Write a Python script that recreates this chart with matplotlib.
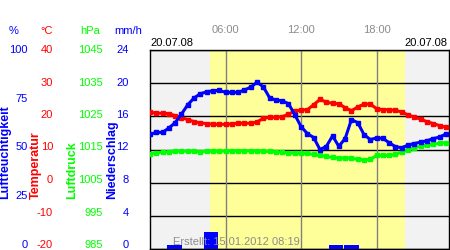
import matplotlib
matplotlib.use('Agg')
import matplotlib.pyplot as plt
from matplotlib.transforms import blended_transform_factory

# time of day in hours, one reading every 30 minutes
hours = [0.0, 0.5, 1.0, 1.5, 2.0, 2.5, 3.0, 3.5, 4.0, 4.5, 5.0, 5.5,
         6.0, 6.5, 7.0, 7.5, 8.0, 8.5, 9.0, 9.5, 10.0, 10.5, 11.0, 11.5,
         12.0, 12.5, 13.0, 13.5, 14.0, 14.5, 15.0, 15.5, 16.0, 16.5, 17.0, 17.5,
         18.0, 18.5, 19.0, 19.5, 20.0, 20.5, 21.0, 21.5, 22.0, 22.5, 23.0, 23.5]

temperature = [21.2, 21.0, 20.9, 20.8, 20.2, 19.6, 19.0, 18.4, 18.0, 17.8, 17.6, 17.6,
               17.6, 17.7, 17.9, 17.9, 17.9, 18.3, 19.4, 19.7, 19.7, 19.9, 20.6, 21.6,
               21.9, 22.0, 23.5, 25.1, 24.3, 23.9, 23.8, 22.6, 21.7, 22.8, 23.7, 23.7,
               22.3, 22.0, 22.0, 21.8, 21.3, 20.4, 19.8, 19.1, 18.4, 17.8, 17.2, 16.7]

humidity = [57.6, 58.6, 58.6, 60.8, 63.5, 67.8, 72.5, 75.9, 78.0, 79.0, 79.5, 79.7,
            78.7, 78.7, 78.7, 79.9, 81.3, 83.8, 81.5, 76.0, 74.8, 74.5, 73.0, 67.5,
            61.5, 58.0, 56.0, 50.0, 51.5, 56.8, 51.6, 55.5, 65.0, 63.5, 57.5, 55.0,
            55.8, 55.6, 53.4, 51.4, 50.9, 52.2, 53.0, 53.7, 54.4, 55.5, 56.2, 57.8]

pressure = [1013.7, 1014.0, 1014.2, 1014.3, 1014.5, 1014.5, 1014.5, 1014.5, 1014.3, 1014.5, 1014.5, 1014.4,
            1014.6, 1014.6, 1014.6, 1014.6, 1014.6, 1014.6, 1014.4, 1014.4, 1014.3, 1014.2, 1014.0, 1013.9,
            1013.9, 1013.8, 1013.5, 1013.2, 1012.9, 1012.6, 1012.4, 1012.4, 1012.4, 1012.0, 1011.9, 1012.0,
            1013.2, 1013.2, 1013.2, 1013.5, 1014.3, 1014.9, 1015.5, 1016.0, 1016.3, 1016.6, 1016.9, 1017.1]

rain_hours = [1.96, 4.86, 14.78, 16.0]
rain = [0.5, 2.0, 0.5, 0.5]

sunrise = 4.77
sunset = 20.27

hum_ticks = [100, 75, 50, 25, 0]
temp_ticks = [40, 30, 20, 10, 0, -10, -20]
pres_ticks = [1045, 1035, 1025, 1015, 1005, 995, 985]
rain_ticks = [24, 20, 16, 12, 8, 4, 0]
time_labels = ['06:00', '12:00', '18:00']
time_pos = [6, 12, 18]
date_txt = '20.07.08'
created = 'Erstellt: 15.01.2012 08:19'

RED = '#ff0000'
BLUE = '#0000ff'
GREEN = '#00ff00'
GRAY = '#8c8c8c'
plt.rcParams['font.family'] = ['Liberation Sans', 'DejaVu Sans']

W, H = 450, 250
fig = plt.figure(figsize=(4.5, 2.5), dpi=100)
ax = fig.add_axes([150 / W, 1 - 249 / H, 299 / W, 199 / H])
ax.set_facecolor('#f2f2f2')
ax.set_xlim(0, 23.75)
ax.set_ylim(-20, 40)
ax.axvspan(sunrise, sunset, color='#ffff99', zorder=0, lw=0)
for t in temp_ticks:
    ax.axhline(t, color='black', lw=1, zorder=1)
for t in time_pos:
    ax.axvline(t, color='#808080', lw=1, zorder=1)
ax.set_xticks([])
ax.set_yticks([])
for s in ax.spines.values():
    s.set_color('black')
    s.set_linewidth(1)

def twin(lo, hi):
    a = ax.twinx()
    a.set_ylim(lo, hi)
    a.set_xlim(0, 23.75)
    a.set_yticks([])
    a.set_xticks([])
    for s in a.spines.values():
        s.set_visible(False)
    return a

ax_r = twin(0, 24)
ax_p = twin(985, 1045)
ax_h = twin(0, 100)

ax_r.bar(rain_hours, rain, width=1.15, color=BLUE, zorder=3)
ax_p.plot(hours, pressure, color=GREEN, lw=2.2, marker='s', ms=2.2, solid_capstyle='butt')
ax.plot(hours, temperature, color=RED, lw=2.2, marker='s', ms=2.2, zorder=4)
ax_h.plot(hours, humidity, color=BLUE, lw=2.2, marker='s', ms=2.2)

# left-hand scales
def label_y(frac):
    # frac: 0 at bottom, 1 at top of the value range
    return 1 - (50 + (1 - frac) * 195) / H

fs = 8
for v in hum_ticks:
    fig.text(28 / W, label_y(v / 100), str(v), color=BLUE, ha='right', va='center', fontsize=fs)
for v in temp_ticks:
    fig.text(53 / W, label_y((v + 20) / 60), str(v), color=RED, ha='right', va='center', fontsize=fs)
for v in pres_ticks:
    fig.text(103 / W, label_y((v - 985) / 60), str(v), color=GREEN, ha='right', va='center', fontsize=fs)
for v in rain_ticks:
    fig.text(129 / W, label_y(v / 24), str(v), color=BLUE, ha='right', va='center', fontsize=fs)

uy = 1 - 31 / H
fig.text(14 / W, uy, '%', color=BLUE, ha='center', va='center', fontsize=fs)
fig.text(47 / W, uy, '°C', color=RED, ha='center', va='center', fontsize=fs)
fig.text(90 / W, uy, 'hPa', color=GREEN, ha='center', va='center', fontsize=fs)
fig.text(128 / W, uy, 'mm/h', color=BLUE, ha='center', va='center', fontsize=fs)

ry = 1 - 199 / H
for x, txt, c in [(5.5, 'Luftfeuchtigkeit', BLUE), (36, 'Temperatur', RED),
                  (72, 'Luftdruck', GREEN), (112, 'Niederschlag', BLUE)]:
    fig.text(x / W, ry, txt, color=c, rotation=90, ha='center', va='bottom',
             fontsize=9, fontweight='bold')

# time labels and dates
tr = blended_transform_factory(ax.transData, fig.transFigure)
for p, lab in zip(time_pos, time_labels):
    fig.text(p, 1 - 30 / H, lab, transform=tr, color=GRAY, ha='center', va='center', fontsize=fs)
fig.text(150 / W, 1 - 43 / H, date_txt, color='black', ha='left', va='center', fontsize=fs)
fig.text(447 / W, 1 - 43 / H, date_txt, color='black', ha='right', va='center', fontsize=fs)
fig.text(236 / W, 1 - 242 / H, created, color=GRAY, ha='center', va='center', fontsize=fs, zorder=10)

fig.savefig('out.png', dpi=100)
